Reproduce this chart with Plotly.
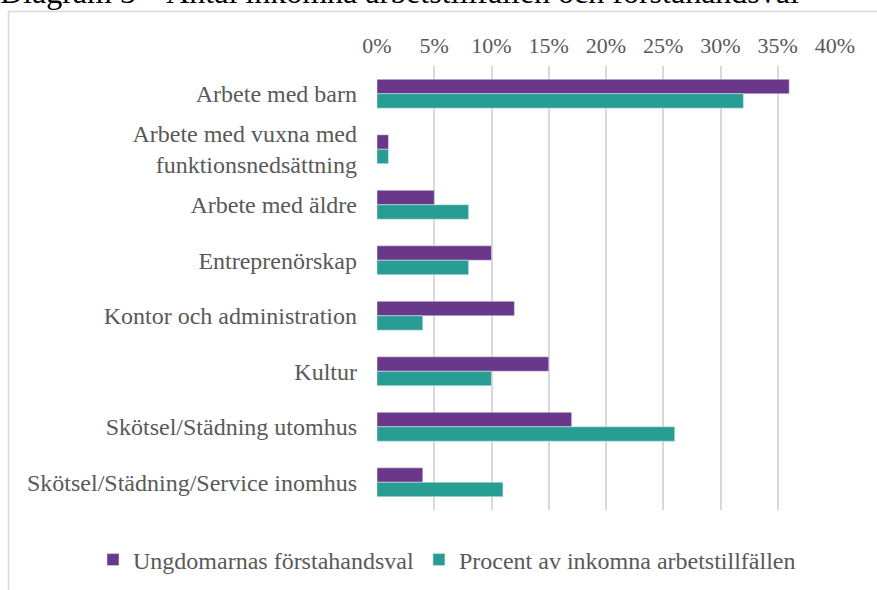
import plotly.graph_objects as go

categories = [
    "Arbete med barn",
    "Arbete med vuxna med<br>funktionsnedsättning",
    "Arbete med äldre",
    "Entreprenörskap",
    "Kontor och administration",
    "Kultur",
    "Skötsel/Städning utomhus",
    "Skötsel/Städning/Service inomhus",
]
ungdomar = [36, 1, 5, 10, 12, 15, 17, 4]
procent = [32, 1, 8, 8, 4, 10, 26, 11]
tick_vals = [0, 5, 10, 15, 20, 25, 30, 35, 40]
tick_text = ["0%", "5%", "10%", "15%", "20%", "25%", "30%", "35%", "40%"]

PURPLE = "#69388A"
TEAL = "#289D93"
GRAY = "#595959"
FONT = "Liberation Serif, Times New Roman, serif"

fig = go.Figure()
fig.add_trace(go.Bar(y=categories, x=ungdomar, orientation="h", name="Ungdomarnas förstahandsval",
                     marker=dict(color=PURPLE)))
fig.add_trace(go.Bar(y=categories, x=procent, orientation="h", name="Procent av inkomna arbetstillfällen",
                     marker=dict(color=TEAL)))

W, H = 877, 590
L, R, T, B = 377, 42, 66, 80
pw, ph = W - L - R, H - T - B

fig.update_layout(
    width=W, height=H,
    margin=dict(l=L, r=R, t=T, b=B, autoexpand=False),
    paper_bgcolor="white", plot_bgcolor="white",
    barmode="group", bargap=0.48, bargroupgap=0,
    font=dict(family=FONT, size=22, color=GRAY),
    xaxis=dict(side="top", range=[0, 40], tickvals=tick_vals, ticktext=tick_text,
               showgrid=True, gridcolor="#d9d9d9", gridwidth=1.5, zeroline=False,
               showline=False, ticks="", tickfont=dict(size=22, color=GRAY),
               ticklabelstandoff=8, fixedrange=True),
    yaxis=dict(autorange="reversed", showgrid=False, zeroline=False, showline=False, ticks="",
               tickfont=dict(size=24, color=GRAY), ticklabelstandoff=19, fixedrange=True),
    legend=dict(orientation="h", xref="paper", x=(93 - L) / pw, xanchor="left",
                yref="paper", y=-(560 - (H - B)) / ph, yanchor="middle",
                font=dict(size=24, color=GRAY), traceorder="normal", itemwidth=30),
    showlegend=True,
)

# chart frame
fig.add_shape(type="rect", xref="paper", yref="paper",
              x0=(8.5 - L) / pw, x1=(W + 5 - L) / pw,
              y0=-(H + 5 - (H - B)) / ph, y1=1 + (T - 11.5) / ph,
              line=dict(color="#d9d9d9", width=1.5), fillcolor="rgba(0,0,0,0)", layer="below")

# title, partly cut off by the top edge as in the original
fig.add_annotation(text="Diagram 3 – Antal inkomna arbetstillfällen och förstahandsval",
                   xref="paper", yref="paper", x=(-2 - L) / pw, xanchor="left",
                   y=1 + (T - 12) / ph, yanchor="bottom", showarrow=False,
                   font=dict(family=FONT, size=32, color="black"))

fig.write_html("out.html", config={"displayModeBar": False},
               post_script="document.body.style.margin='0';")
